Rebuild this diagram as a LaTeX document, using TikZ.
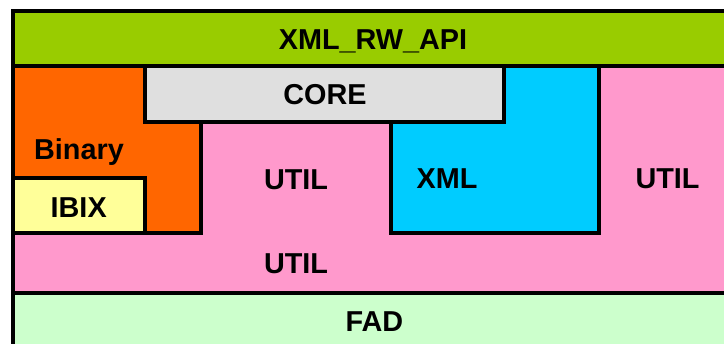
\documentclass[tikz,border=0pt]{standalone}
\usepackage{fontspec}
\setmainfont{Liberation Sans}
\definecolor{apigreen}{HTML}{99CC00}
\definecolor{binorange}{HTML}{FF6600}
\definecolor{coregray}{HTML}{DFDFDF}
\definecolor{xmlcyan}{HTML}{00CCFF}
\definecolor{utilpink}{HTML}{FF99CC}
\definecolor{ibixyellow}{HTML}{FFFF99}
\definecolor{fadgreen}{HTML}{CCFFCC}
\begin{document}
\begin{tikzpicture}[x=1pt,y=-1pt,
  blk/.style={draw=black,line width=4pt},
  lbl/.style={anchor=base,inner sep=0pt,font=\fontsize{28.8}{32}\selectfont\bfseries}]
\useasboundingbox (0,0) rectangle (724,344);
\clip (0,0) rectangle (724,344);
\fill[white] (0,0) rectangle (724,344);
% layers
\draw[blk,fill=utilpink] (13,66) rectangle (740,293);
\draw[blk,fill=fadgreen] (13,293) rectangle (740,360);
\draw[blk,fill=apigreen] (13,11) rectangle (740,66);
\draw[blk,fill=binorange] (13,66) rectangle (201,233.5);
\draw[blk,fill=ibixyellow] (13,178) rectangle (145,233.5);
\draw[blk,fill=xmlcyan] (391,66) rectangle (599,233);
\draw[blk,fill=coregray] (145,66) rectangle (504,122);
% labels
\node[lbl] (api) at (373,49.3) {XML\_RW\_API};
\node[lbl] (core) at (325,104.3) {CORE};
\node[lbl] (binary) at (79,159.3) {Binary};
\node[lbl] (ibix) at (78.7,217.3) {IBIX};
\node[lbl] (utilmid) at (296,189.3) {UTIL};
\node[lbl] (xml) at (447,188.3) {XML};
\node[lbl] (utilright) at (667.5,189) {UTIL};
\node[lbl] (utilbot) at (296,273.3) {UTIL};
\node[lbl] (fad) at (374.3,331.7) {FAD};
\end{tikzpicture}
\end{document}
